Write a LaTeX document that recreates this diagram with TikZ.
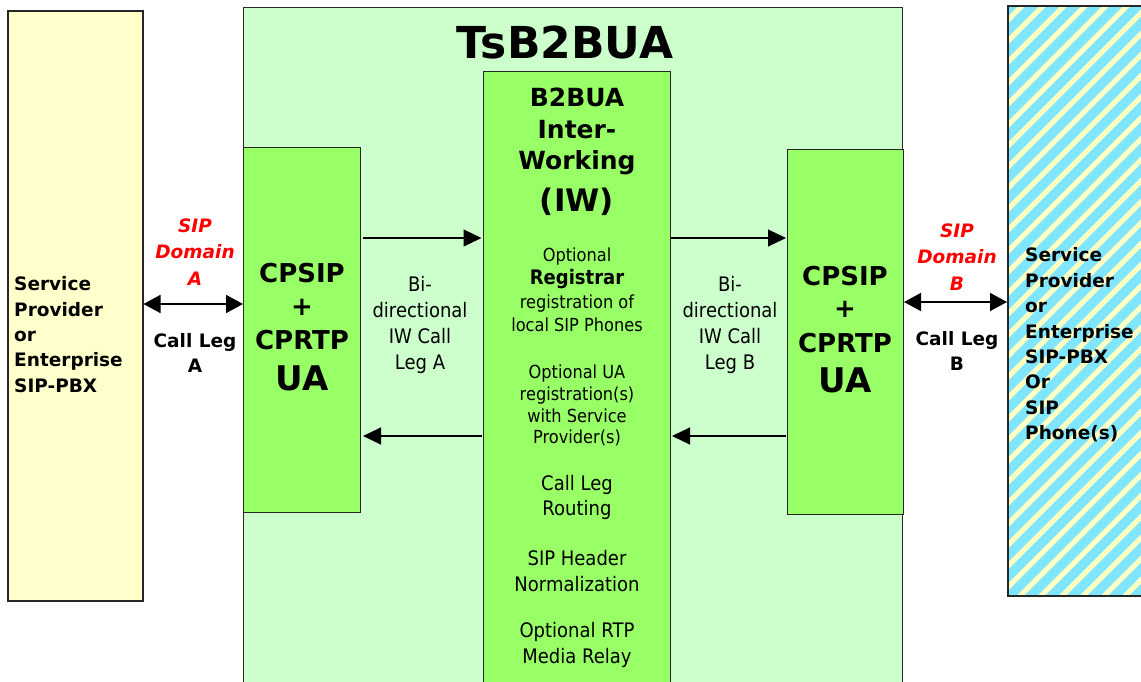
\documentclass[tikz,border=0pt]{standalone}
\usepackage{fontspec}
\setmainfont{DejaVu Sans}
\newfontfamily\cond{DejaVu Sans}[FakeStretch=0.9]
\usetikzlibrary{arrows.meta}
\definecolor{ylw}{HTML}{FFFFCC}
\definecolor{ltgrn}{HTML}{CCFFCC}
\definecolor{grn}{HTML}{99FF66}
\definecolor{cyn}{HTML}{80E5FF}
\definecolor{stripeY}{HTML}{FFFFC4}
\definecolor{redtxt}{HTML}{FF0000}
\tikzset{
  box/.style={draw=black!85, line width=1pt},
  bt/.style={font=\bfseries\fontsize{#1}{#1}\selectfont, inner sep=0pt, align=center},
  rt/.style={font=\cond\fontsize{#1}{#1}\selectfont, inner sep=0pt, align=center},
  iwarr/.style={line width=1.2pt, -{Triangle[length=18pt,width=17pt]}},
  dblarr/.style={line width=1.6pt, {Triangle[length=17pt,width=18pt]}-{Triangle[length=17pt,width=18pt]}},
  redlbl/.style={font=\bfseries\itshape\fontsize{18.5}{26.5}\selectfont, text=redtxt, inner sep=0pt, align=center},
  leglbl/.style={font=\bfseries\fontsize{18.5}{25}\selectfont, inner sep=0pt, align=center},
  sidelbl/.style={font=\bfseries\fontsize{18.5}{25.4}\selectfont, inner sep=0pt, align=left, anchor=west},
}
\begin{document}
\begin{tikzpicture}[x=1pt,y=-1pt]
\useasboundingbox (0,0) rectangle (1141,681);
\fill[white] (0,0) rectangle (1141,681);

% left box
\node[box, line width=1.5pt, fill=ylw, minimum width=135pt, minimum height=590pt, anchor=north west, inner sep=0pt] (lb) at (7,10) {};
% TsB2BUA box
\node[box, fill=ltgrn, minimum width=659pt, minimum height=690pt, anchor=north west, inner sep=0pt] (ts) at (243,7) {};
% right hatched box
\begin{scope}
  \clip (1007,5) rectangle (1150,595);
  \fill[cyn] (1007,5) rectangle (1150,595);
  \foreach \k in {0,...,40} {
    \pgfmathsetmacro{\xs}{407+21*\k}
    \pgfmathsetmacro{\xe}{\xs+600}
    \draw[stripeY, line width=5pt] (\xs,600) -- (\xe,0);
  }
\end{scope}
\node[draw=black!85, line width=2pt, minimum width=143pt, minimum height=590pt, anchor=north west, inner sep=0pt] (rb) at (1007,5) {};

% inner boxes
\node[box, fill=grn, minimum width=117pt, minimum height=365pt, anchor=north west, inner sep=0pt] (cpa) at (243,147) {};
\node[box, fill=grn, minimum width=187pt, minimum height=625pt, anchor=north west, inner sep=0pt] (iw) at (483,71) {};
\node[box, fill=grn, minimum width=116pt, minimum height=365pt, anchor=north west, inner sep=0pt] (cpb) at (787,149) {};

% title
\node[font=\bfseries\fontsize{44}{44}\selectfont, inner sep=0pt] (title) at (565,42) {TsB2BUA};

% side texts
\node[sidelbl] (lbt) at (14,334.5) {Service\\Provider\\or\\Enterprise\\SIP-PBX};
\node[sidelbl] (rbt) at (1025,345) {Service\\Provider\\or\\Enterprise\\SIP-PBX\\Or\\SIP\\Phone(s)};

% domain labels
\node[redlbl] (doma) at (195,252) {SIP\\Domain\\A};
\node[leglbl] (lega) at (195,352.5) {Call Leg\\A};
\node[redlbl] (domb) at (957,257) {SIP\\Domain\\B};
\node[leglbl] (legb) at (957,350.5) {Call Leg\\B};

% CPSIP A
\node[bt=26] (ca1) at (302,273) {CPSIP};
\node[bt=26] (ca2) at (302,307) {+};
\node[bt=26] (ca3) at (302,340) {CPRTP};
\node[bt=34] (ca4) at (302,378) {UA};
% CPSIP B
\node[bt=26] (cb1) at (845,276) {CPSIP};
\node[bt=26] (cb2) at (845,309) {+};
\node[bt=26] (cb3) at (845,343) {CPRTP};
\node[bt=34] (cb4) at (845,380) {UA};

% bidirectional labels
\node[rt=20, font=\cond\fontsize{20}{26}\selectfont] (bia) at (420,325) {Bi-\\directional\\IW Call\\Leg A};
\node[rt=20, font=\cond\fontsize{20}{26}\selectfont] (bib) at (730,325) {Bi-\\directional\\IW Call\\Leg B};

% IW box texts
\node[bt=25] (iw1) at (577,97) {B2BUA};
\node[bt=25] (iw2) at (577,130) {Inter-};
\node[bt=25] (iw3) at (577,163) {Working};
\node[bt=31] (iw4) at (577,202) {(IW)};
\node[rt=18, font=\cond\fontsize{18}{23.5}\selectfont] (iw5) at (577,290) {Optional\\{\bfseries\fontsize{20}{23.5}\selectfont Registrar}\\registration of\\local SIP Phones};
\node[rt=18, font=\cond\fontsize{18}{21.7}\selectfont] (iw6) at (577,405.5) {Optional UA\\registration(s)\\with Service\\Provider(s)};
\node[rt=20, font=\cond\fontsize{20}{25}\selectfont] (iw7) at (577,497.5) {Call Leg\\Routing};
\node[rt=20, font=\cond\fontsize{20}{26}\selectfont] (iw8) at (577,571) {SIP Header\\Normalization};
\node[rt=20, font=\cond\fontsize{20}{26}\selectfont] (iw9) at (577,645) {Optional RTP\\Media Relay};

% connectors
\coordinate (legA) at (0,304);
\coordinate (legB) at (0,302);
\coordinate (topY) at (0,238);
\coordinate (botY) at (0,436);
\draw[dblarr] (lb.east |- legA) -- (cpa.west |- legA);
\draw[dblarr] (cpb.east |- legB) -- (rb.west |- legB);
\draw[iwarr, shorten <=2pt, shorten >=1.5pt] (cpa.east |- topY) -- (iw.west |- topY);
\draw[iwarr, shorten <=1.5pt, shorten >=2pt] (iw.west |- botY) -- (cpa.east |- botY);
\draw[iwarr, shorten >=1pt] (iw.east |- topY) -- (cpb.west |- topY);
\draw[iwarr, shorten <=1pt, shorten >=1pt] (cpb.west |- botY) -- (iw.east |- botY);
\end{tikzpicture}
\end{document}
